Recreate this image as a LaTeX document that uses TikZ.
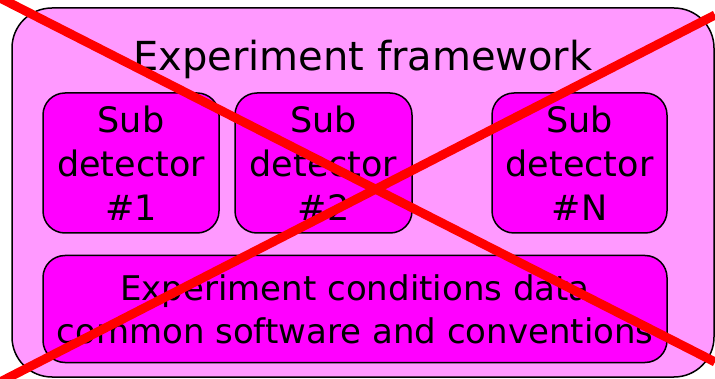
\documentclass[tikz,border=0pt]{standalone}
\usepackage{fontspec}
\setmainfont{DejaVu Sans}
\usetikzlibrary{calc}

\tikzset{
  framebox/.style={draw, line width=1.5pt, rounded corners=40pt, fill=fwpink},
  subbox/.style={draw, line width=1.5pt, rounded corners=22pt, fill=fwmagenta,
    align=center, inner sep=0pt, font=\fontsize{35}{44}\selectfont},
  cross/.style={draw=red, line width=9pt}
}
\definecolor{fwpink}{HTML}{FF99FF}
\definecolor{fwmagenta}{HTML}{FF00FF}

\begin{document}
\begin{tikzpicture}[x=1pt, y=-1pt]
  \useasboundingbox (0,0) rectangle (715,379);

  \node[framebox, minimum width=702pt, minimum height=369pt] (fw) at (363,192.5) {};
  \node[font=\fontsize{40}{44}\selectfont] (title) at (363,59) {Experiment framework};

  \node[subbox, minimum width=176pt, minimum height=140pt] (sub1) at (131,163) {Sub\\detector\\\#1};
  \node[subbox, minimum width=177pt, minimum height=140pt] (sub2) at (323.5,163) {Sub\\detector\\\#2};
  \node[subbox, minimum width=175pt, minimum height=140pt] (subN) at (579.5,163) {Sub\\detector\\\#N};
  \node[subbox, minimum width=624pt, minimum height=107pt, font=\fontsize{34}{43}\selectfont] (cond) at (355,309)
    {Experiment conditions data\\common software and conventions};

  % crossed out
  \coordinate (tl) at (0,-2);
  \coordinate (br) at (715,362);
  \coordinate (tr) at (715,15);
  \coordinate (bl) at (0,382);
  \draw[cross] (tl) -- (br);
  \draw[cross] (tr) -- (bl);
\end{tikzpicture}
\end{document}
